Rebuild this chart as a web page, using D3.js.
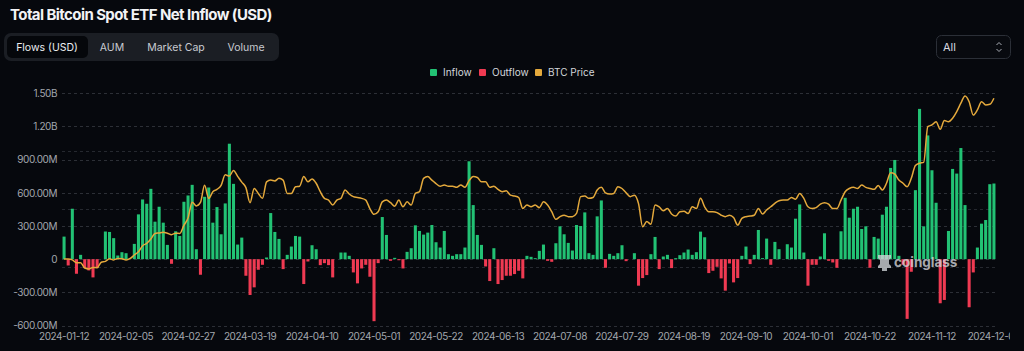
<!DOCTYPE html>
<html>
<head>
<meta charset="utf-8">
<script src="https://d3js.org/d3.v7.min.js"></script>
<style>
  html, body { margin: 0; padding: 0; background: #06080d; }
  #chart { width: 1024px; height: 351px; }
  text { font-family: Inter, Roboto, "Noto Sans", sans-serif; }
</style>
</head>
<body>
<div id="chart"></div>
<script>
// Net flows per trading day, in millions of USD
var netFlows = [
  204, -57, 456, -132, 39, -81, -102, -165, -81, 0,
  250, 246, 190, 33, 63, 54, 0, 138, 405, 540,
  501, 636, 339, 474, 330, 129, -42, 252, 210, 519,
  576, 672, 90, -141, 564, 648, 330, 471, 225, 504,
  1044, 681, 132, 195, -150, -324, -255, -96, -51, 15,
  417, 246, 183, -90, 39, 114, 210, 204, -225, -21,
  126, 90, -54, -36, -54, -165, 0, 60, 60, 30,
  -120, -219, -84, -51, -159, -561, -36, 381, 219, -15,
  12, -10, -84, 66, 99, 306, 255, 222, 240, 309,
  153, 105, 255, 45, 30, 45, 45, 105, 885, 489,
  219, 129, -66, -198, 99, -225, -189, -150, -150, -135,
  -105, -174, 30, 21, 9, 75, 132, -15, -24, 144,
  297, 225, 147, 78, 309, 300, 423, 54, 39, 387,
  531, -78, 48, 30, 54, 126, -18, 0, 54, -240,
  -171, -144, 45, 201, -90, 24, 39, -81, 9, 36,
  60, 87, 39, 63, 249, 198, -126, -105, -69, -174,
  -285, -39, -210, -171, 30, 114, -45, 39, 264, 9,
  186, -51, 156, 90, 0, 135, 105, 366, 495, 60,
  -240, -51, -51, 24, 234, -15, -30, -78, 252, 555,
  375, 456, 474, 273, 297, -78, 201, 186, 402, 474,
  825, 897, 30, -50, -540, -114, 624, 1359, 297, 1119,
  804, 510, -399, -369, 255, 816, 774, 1005, 489, -435,
  -120, 105, 321, 354, 678, 684
];

// BTC price per trading day, in thousands of USD
var btcPrice = [
  42.9, 42.9, 42.6, 41.6, 41.6, 39.8, 39.5, 40.0, 39.9, 41.8,
  42.1, 43.0, 42.6, 43.1, 43.0, 42.6, 43.1, 44.3, 45.4, 47.5,
  48.3, 49.8, 51.7, 51.9, 52.1, 51.8, 51.3, 51.8, 51.7, 54.5,
  57.0, 62.5, 61.2, 62.4, 68.3, 63.8, 66.1, 66.9, 68.3, 71.9,
  71.5, 73.4, 71.4, 69.4, 67.5, 62.3, 67.2, 65.5, 63.8, 69.5,
  70.1, 69.8, 70.7, 70.1, 65.5, 65.5, 67.8, 68.0, 71.3, 69.5,
  70.5, 69.0, 66.1, 63.8, 63.2, 61.5, 63.2, 63.8, 66.7, 65.3,
  64.4, 64.1, 63.8, 63.2, 60.3, 58.3, 59.2, 62.6, 63.2, 62.3,
  61.1, 63.2, 60.9, 62.6, 61.5, 65.5, 66.1, 70.7, 71.3, 70.1,
  68.9, 68.0, 68.4, 68.0, 68.0, 67.6, 68.4, 67.6, 69.9, 71.3,
  71.0, 69.5, 69.5, 67.6, 68.0, 66.9, 66.1, 66.4, 64.9, 64.6,
  64.1, 60.3, 61.5, 60.9, 61.5, 60.6, 62.6, 61.5, 59.2, 56.6,
  57.5, 58.0, 57.5, 57.5, 58.6, 64.4, 64.6, 63.8, 64.1, 66.7,
  67.6, 65.7, 65.3, 65.5, 67.8, 67.2, 65.7, 64.4, 64.9, 62.0,
  54.0, 55.8, 54.9, 61.5, 60.9, 59.5, 60.3, 58.4, 57.7, 59.2,
  59.4, 58.6, 60.9, 60.3, 63.8, 60.9, 59.2, 59.2, 58.9, 58.0,
  57.5, 58.0, 57.2, 54.6, 56.9, 57.5, 57.7, 58.0, 60.3, 58.4,
  59.8, 60.9, 62.1, 63.0, 63.2, 63.2, 64.1, 63.5, 65.5, 63.8,
  60.9, 60.3, 60.6, 61.8, 62.3, 61.8, 60.3, 60.3, 63.2, 66.1,
  67.2, 67.6, 67.2, 68.4, 67.6, 67.2, 66.9, 68.2, 66.7, 69.0,
  72.6, 72.2, 70.1, 69.0, 67.8, 70.7, 75.1, 75.9, 76.2, 88.5,
  89.1, 90.2, 87.6, 90.6, 90.2, 91.4, 93.7, 96.6, 99.1, 97.1,
  92.5, 94.3, 97.1, 96.0, 96.2, 98.3
];

var flowTicks = [-600e6, -300e6, 0, 300e6, 600e6, 900e6, 1.2e9, 1.5e9];
var priceTicks = [20000, 40000, 60000, 80000, 100000];
var tabs = ["Flows (USD)", "AUM", "Market Cap", "Volume"];
var legendItems = [
  { name: "Inflow", color: "#22c274" },
  { name: "Outflow", color: "#ef3a52" },
  { name: "BTC Price", color: "#e4a93c" }
];

// US market holidays in the span, so the category axis holds trading days only
var holidays = ["2024-01-15", "2024-02-19", "2024-03-29", "2024-05-27",
                "2024-06-19", "2024-07-04", "2024-09-02", "2024-11-28"];
var fmtDay = d3.timeFormat("%Y-%m-%d");
var days = d3.timeDay.range(new Date(2024, 0, 12), new Date(2024, 11, 5))
  .filter(function(d) { return d.getDay() > 0 && d.getDay() < 6 && holidays.indexOf(fmtDay(d)) < 0; })
  .map(fmtDay);

var data = days.map(function(d, i) {
  return { date: d, flow: netFlows[i] * 1e6, price: btcPrice[i] * 1000 };
});

var width = 1024, height = 351;
var svg = d3.select("#chart").append("svg")
  .attr("width", width)
  .attr("height", height);

svg.append("rect").attr("width", width).attr("height", height).attr("fill", "#06080d");

// Title
svg.append("text")
  .attr("x", 10).attr("y", 20)
  .attr("fill", "#f2f3f5")
  .attr("font-size", 15)
  .attr("font-weight", 700)
  .attr("letter-spacing", -0.58)
  .text("Total Bitcoin Spot ETF Net Inflow (USD)");

// Tabs
var tabX = [47, 112, 176, 246];
svg.append("rect").attr("x", 4).attr("y", 33).attr("width", 275).attr("height", 28)
  .attr("rx", 7).attr("fill", "#1b1e24");
svg.append("rect").attr("x", 7).attr("y", 36).attr("width", 81).attr("height", 22)
  .attr("rx", 5).attr("fill", "#05070b");
svg.selectAll(".tab").data(tabs).enter().append("text")
  .attr("class", "tab")
  .attr("x", function(d, i) { return tabX[i]; })
  .attr("y", 51)
  .attr("text-anchor", "middle")
  .attr("font-size", 10.5)
  .attr("fill", function(d, i) { return i == 0 ? "#eceef1" : "#c8cbd1"; })
  .text(function(d) { return d; });

// "All" select box
svg.append("rect").attr("x", 936.5).attr("y", 35.5).attr("width", 74).attr("height", 23)
  .attr("rx", 5).attr("fill", "#080a0f").attr("stroke", "#2b2f37");
svg.append("text").attr("x", 943).attr("y", 51).attr("font-size", 11).attr("fill", "#d9dbe0").text("All");
svg.append("path").attr("d", "M996.5,45 L999,42.5 L1001.5,45 M996.5,49 L999,51.5 L1001.5,49")
  .attr("fill", "none").attr("stroke", "#a9adb5").attr("stroke-width", 1);

// Legend
var legendX = [430, 479, 535];
var lg = svg.selectAll(".legend").data(legendItems).enter().append("g")
  .attr("class", "legend")
  .attr("transform", function(d, i) { return "translate(" + legendX[i] + ",69)"; });
lg.append("rect").attr("width", 7).attr("height", 7).attr("rx", 1).attr("fill", function(d) { return d.color; });
lg.append("text").attr("x", 13).attr("y", 7).attr("font-size", 10).attr("fill", "#d3d6db")
  .text(function(d) { return d.name; });

// Scales
var plotTop = 93.3, plotBottom = 325.5, plotLeft = 62, plotRight = 996;
var x = d3.scaleBand().domain(days).range([plotLeft, plotRight]).paddingInner(0.26).paddingOuter(0.13);
var y = d3.scaleLinear().domain([-600e6, 1.5e9]).range([plotBottom, plotTop]);
var yPrice = d3.scaleLinear().domain([20000, 100000]).range([plotBottom, plotTop]);

// Grid lines (flows and hidden price axis)
var grid = svg.append("g").attr("id", "grid");
grid.selectAll(".gflow").data(flowTicks).enter().append("line")
  .attr("x1", plotLeft).attr("x2", plotRight)
  .attr("y1", function(d) { return Math.round(y(d)) + 0.5; })
  .attr("y2", function(d) { return Math.round(y(d)) + 0.5; })
  .attr("stroke", "#2c2f36").attr("stroke-dasharray", "3,3");
grid.selectAll(".gprice").data(priceTicks.slice(1, 4)).enter().append("line")
  .attr("x1", plotLeft).attr("x2", plotRight)
  .attr("y1", function(d) { return Math.round(yPrice(d)) + 0.5; })
  .attr("y2", function(d) { return Math.round(yPrice(d)) + 0.5; })
  .attr("stroke", "#25282f").attr("stroke-dasharray", "3,3");

// Y axis
function fmtFlow(v) {
  if (v == 0) return "0";
  if (Math.abs(v) >= 1e9) return (v / 1e9).toFixed(2) + "B";
  return (v / 1e6).toFixed(2) + "M";
}
var yAxis = svg.append("g")
  .attr("transform", "translate(" + plotLeft + ",0)")
  .call(d3.axisLeft(y).tickValues(flowTicks).tickFormat(fmtFlow).tickSize(0).tickPadding(5));
yAxis.select(".domain").remove();
yAxis.selectAll("text").attr("fill", "#a3a7ae").attr("font-size", 10)
  .attr("letter-spacing", -0.45)
  .attr("font-family", "Roboto, sans-serif");

// X axis
svg.append("clipPath").attr("id", "xclip").append("rect")
  .attr("x", 0).attr("y", 320).attr("width", 1010).attr("height", 31);
var xAxis = svg.append("g")
  .attr("clip-path", "url(#xclip)")
  .append("g")
  .attr("transform", "translate(0," + plotBottom + ")")
  .call(d3.axisBottom(x)
    .tickValues(days.filter(function(d, i) { return i % 15 == 0; }))
    .tickSize(0).tickPadding(7));
xAxis.select(".domain").remove();
xAxis.selectAll("text").attr("fill", "#a3a7ae").attr("font-size", 10)
  .attr("letter-spacing", -0.45)
  .attr("font-family", "Roboto, sans-serif");

// Bars
svg.append("g").attr("id", "bars").selectAll("rect")
  .data(data).enter().append("rect")
  .attr("x", function(d) { return x(d.date); })
  .attr("width", x.bandwidth())
  .attr("y", function(d) { return d.flow >= 0 ? y(d.flow) : y(0); })
  .attr("height", function(d) { return Math.abs(y(d.flow) - y(0)); })
  .attr("fill", function(d) { return d.flow >= 0 ? legendItems[0].color : legendItems[1].color; });

// Watermark
var wm = svg.append("g").attr("opacity", 0.8);
wm.append("path")
  .attr("d", "M878,255 h13 v3 l-2,2 v4 l2,2 v2 h-4 v3 h-5 v-3 h-4 v-2 l2,-2 v-4 l-2,-2 z")
  .attr("fill", "#cfd2d6");
wm.append("text").attr("x", 894).attr("y", 267).attr("font-size", 13.5).attr("font-weight", 700)
  .attr("fill", "#cfd2d6").text("coinglass");

// BTC price line
var line = d3.line()
  .x(function(d) { return x(d.date) + x.bandwidth() / 2; })
  .y(function(d) { return yPrice(d.price); })
  .curve(d3.curveMonotoneX);
svg.append("path").datum(data)
  .attr("d", line)
  .attr("fill", "none")
  .attr("stroke", legendItems[2].color)
  .attr("stroke-width", 1.5);
</script>
</body>
</html>
